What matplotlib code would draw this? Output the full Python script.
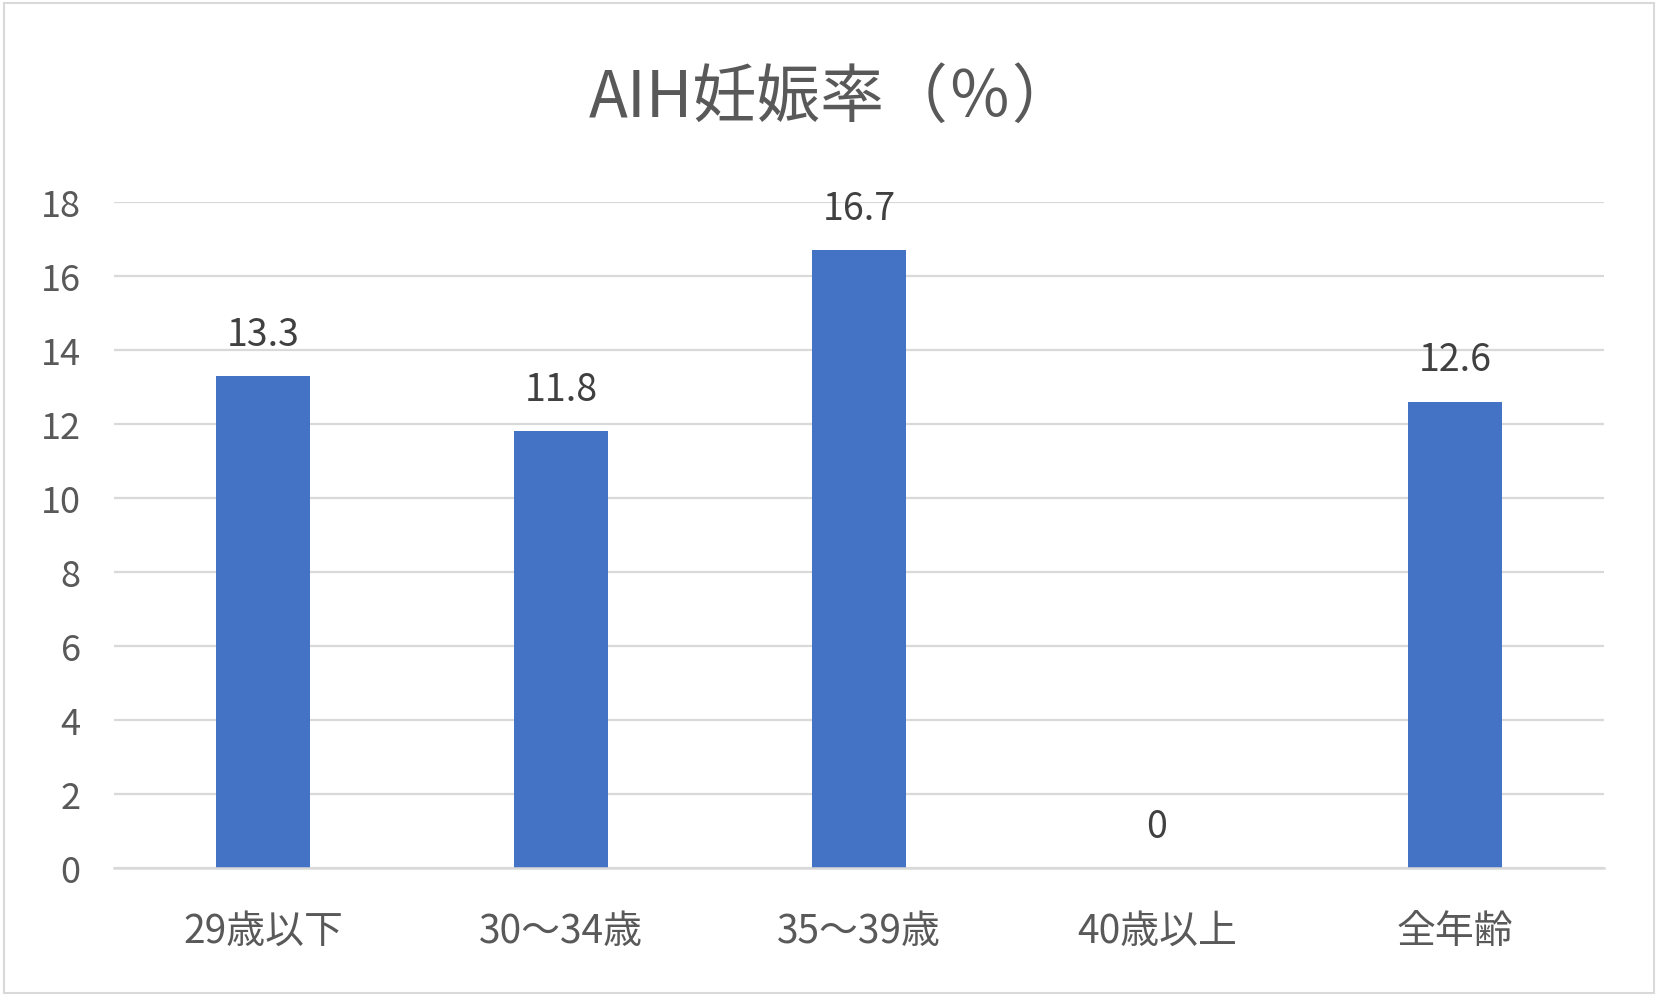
import matplotlib
matplotlib.use("Agg")
import matplotlib.pyplot as plt
from matplotlib.patches import Rectangle

plt.rcParams['font.family'] = ['Noto Sans CJK JP', 'DejaVu Sans']

categories = ["29歳以下", "30～34歳", "35～39歳", "40歳以上", "全年齢"]
values = [13.3, 11.8, 16.7, 0, 12.6]
value_labels = ["13.3", "11.8", "16.7", "0", "12.6"]
yticks = [0, 2, 4, 6, 8, 10, 12, 14, 16, 18]
title = "AIH妊娠率（％）"

W, H = 1663, 1003
fig = plt.figure(figsize=(W / 100, H / 100), dpi=100)
fig.patch.set_facecolor("white")

# outer border
fig.patches.append(Rectangle((4 / W, 1 - 994 / H), (1654 - 4) / W, (994 - 4) / H,
                             transform=fig.transFigure, fill=False,
                             edgecolor="#D9D9D9", linewidth=1.5))

left, right = 114 / W, 1604 / W
bottom, top = 1 - 869 / H, 1 - 202.7 / H
ax = fig.add_axes([left, bottom, right - left, top - bottom])

x = list(range(len(categories)))
bars = ax.bar(x, values, width=0.314, color="#4472C4", zorder=3)

ax.set_xlim(-0.5, len(categories) - 0.5)
ax.set_ylim(0, 18)
ax.set_yticks(yticks)
ax.set_yticklabels([str(t) for t in yticks])
ax.set_xticks(x)
ax.set_xticklabels(categories)

for s in ["top", "right", "left"]:
    ax.spines[s].set_visible(False)
ax.spines["bottom"].set_color("#D9D9D9")
ax.spines["bottom"].set_linewidth(1.8)
ax.spines["bottom"].set_zorder(4)

ax.yaxis.grid(True, color="#D9D9D9", linewidth=1.6, zorder=0)
ax.set_axisbelow(True)
ax.tick_params(axis="y", length=0, pad=24, labelsize=26, labelcolor="#595959")
ax.tick_params(axis="x", length=0, pad=31, labelsize=28, labelcolor="#595959")

for xi, v, lab in zip(x, values, value_labels):
    ax.annotate(lab, (xi, v), xytext=(0, 30), textcoords="offset points",
                ha="center", va="center", fontsize=27, color="#404040")

fig.text(833 / W, 1 - 99 / H, title, ha="center", va="center",
         fontsize=46, color="#595959")

fig.savefig("out.png", dpi=100, facecolor="white")
